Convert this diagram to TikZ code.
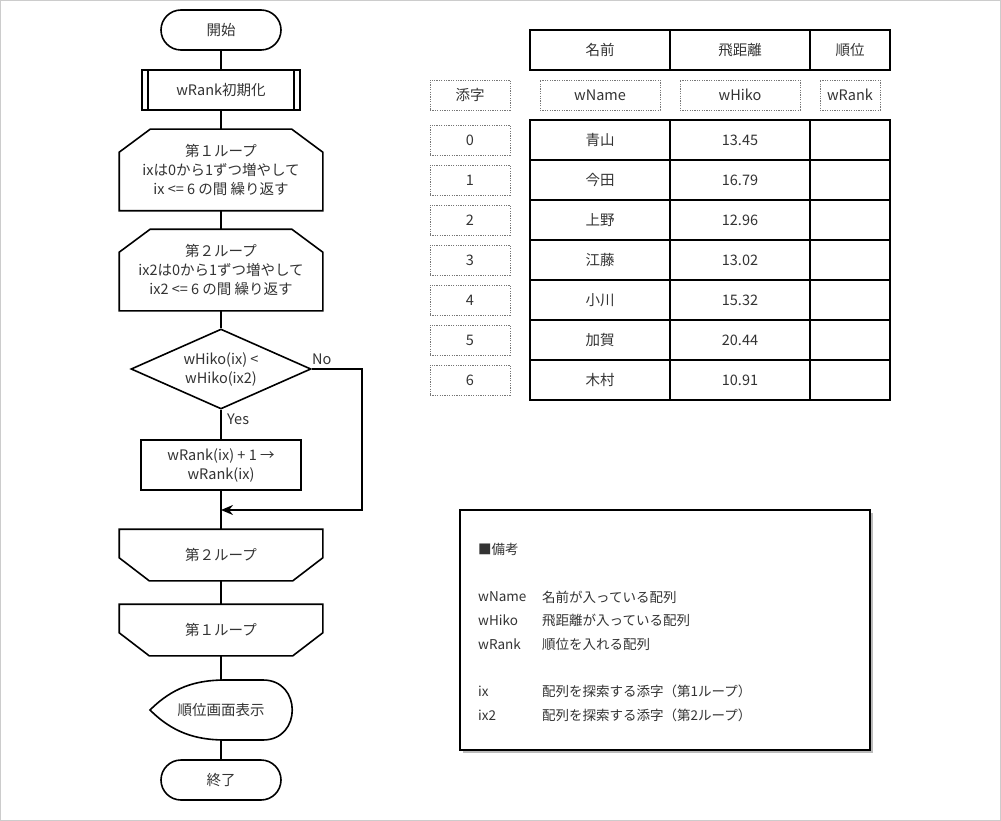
\documentclass[tikz,border=0pt]{standalone}
\usepackage{fontspec}
\setmainfont{Noto Sans CJK JP}
\usetikzlibrary{shapes.misc,shapes.geometric,arrows.meta}
\definecolor{framec}{HTML}{CCCCCC}
\definecolor{textc}{HTML}{333333}
\definecolor{shadowc}{HTML}{BBBBBB}
\definecolor{dotc}{HTML}{777777}

\tikzset{
  flow/.style={draw, line width=1.6pt, fill=white, text=textc, align=center,
    font=\fontsize{14.5}{19}\selectfont, inner sep=0pt},
  termbox/.style={flow, rounded rectangle, minimum width=120pt, minimum height=40pt},
  procbox/.style={flow, rectangle, minimum width=160pt, minimum height=50pt},
  loopbegin/.style={flow, draw=none, fill=none, minimum width=202pt, minimum height=80pt,
    append after command={\pgfextra{\draw[line width=1.6pt]
      (\tikzlastnode.south west) -- ([yshift=-23pt]\tikzlastnode.north west)
      -- ([xshift=31pt]\tikzlastnode.north west) -- ([xshift=-31pt]\tikzlastnode.north east)
      -- ([yshift=-23pt]\tikzlastnode.north east) -- (\tikzlastnode.south east) -- cycle;}}},
  loopend/.style={flow, draw=none, fill=none, minimum width=202pt, minimum height=50pt,
    append after command={\pgfextra{\draw[line width=1.6pt]
      (\tikzlastnode.north west) -- ([yshift=23pt]\tikzlastnode.south west)
      -- ([xshift=30pt]\tikzlastnode.south west) -- ([xshift=-30pt]\tikzlastnode.south east)
      -- ([yshift=23pt]\tikzlastnode.south east) -- (\tikzlastnode.north east) -- cycle;}}},
  condbox/.style={flow, diamond, aspect=2.25, minimum width=180pt, minimum height=80pt},
  link/.style={line width=1.6pt},
  cell/.style={draw, line width=1.2pt, text=textc, inner sep=0pt, minimum height=40pt,
    font=\fontsize{14.5}{18}\selectfont},
  dotbox/.style={draw=dotc, line width=0.6pt, dash pattern=on 1.2pt off 1.2pt, text=textc,
    inner sep=0pt, minimum height=30pt, font=\fontsize{14.5}{18}\selectfont},
  notetext/.style={anchor=west, text=textc, inner sep=0pt, font=\fontsize{13.5}{16}\selectfont},
  flowlabel/.style={anchor=west, text=textc, inner sep=0pt, font=\fontsize{14.5}{18}\selectfont}
}

\begin{document}
\begin{tikzpicture}[x=1pt, y=-1pt]
  \useasboundingbox (0,0) rectangle (1001,821);
  \draw[framec, line width=1pt] (0.5,0.5) rectangle (1000.5,820.5);

  % flowchart
  \node[termbox] (start) at (221,30) {開始};
  \node[flow, minimum width=158pt, minimum height=40pt] (init) at (221,90) {wRank初期化};
  \draw[line width=1.6pt] ([xshift=7pt]init.north west) -- ([xshift=7pt]init.south west);
  \draw[line width=1.6pt] ([xshift=-7pt]init.north east) -- ([xshift=-7pt]init.south east);
  \node[loopbegin] (loop1) at (221,170) {第１ループ\\ixは0から1ずつ増やして\\ix <= 6 の間 繰り返す};
  \node[loopbegin] (loop2) at (221,270) {第２ループ\\ix2は0から1ずつ増やして\\ix2 <= 6 の間 繰り返す};
  \node[condbox] (cond) at (221,369) {wHiko(ix) <\\wHiko(ix2)};
  \node[procbox] (proc) at (221,465) {wRank(ix) + 1 →\\wRank(ix)};
  \coordinate (merge) at (221,510);
  \node[loopend] (end2) at (221,555) {第２ループ};
  \node[loopend] (end1) at (221,630) {第１ループ};
  \draw[line width=1.6pt, fill=white] (150,710) .. controls (172,688) and (195,680) .. (225,680)
    -- (263,680) .. controls (302,680) and (302,740) .. (263,740)
    -- (225,740) .. controls (195,740) and (172,732) .. (150,710) -- cycle;
  \node[text=textc, font=\fontsize{14.5}{18}\selectfont, minimum width=142pt, minimum height=60pt,
    inner sep=0pt] (disp) at (221,710) {順位画面表示};
  \node[termbox] (stop) at (221,780) {終了};

  \draw[link] (start) -- (init);
  \draw[link] (init) -- (loop1);
  \draw[link] (loop1) -- (loop2);
  \draw[link] (loop2) -- (cond);
  \draw[link] (cond) -- (proc);
  \draw[link] (proc) -- (end2);
  \draw[link, -{Stealth[length=12pt, width=10pt]}] (cond.east) -- ++(50,0) |- (merge);
  \draw[link] (end2) -- (end1);
  \draw[link] (end1) -- (disp.north);
  \draw[link] (disp.south) -- (stop);
  \node[flowlabel] at (227,419) {Yes};
  \node[flowlabel] at (312,359) {No};

  % table
  \node[cell, minimum width=140pt] (hname) at (600,50) {名前};
  \node[cell, minimum width=140pt] (hhiko) at (740,50) {飛距離};
  \node[cell, minimum width=80pt] (hrank) at (850,50) {順位};
  \node[dotbox, minimum width=80pt] (vidx) at (470,95) {添字};
  \node[dotbox, minimum width=120pt] (vname) at (600,95) {wName};
  \node[dotbox, minimum width=120pt] (vhiko) at (740,95) {wHiko};
  \node[dotbox, minimum width=60pt] (vrank) at (850,95) {wRank};
  \foreach \i/\nm/\dist in {0/青山/13.45, 1/今田/16.79, 2/上野/12.96, 3/江藤/13.02,
                            4/小川/15.32, 5/加賀/20.44, 6/木村/10.91} {
    \node[dotbox, minimum width=80pt] (idx\i) at (470,140+40*\i) {\i};
    \node[cell, minimum width=140pt] (name\i) at (600,140+40*\i) {\nm};
    \node[cell, minimum width=140pt] (hiko\i) at (740,140+40*\i) {\dist};
    \node[cell, minimum width=80pt] (rank\i) at (850,140+40*\i) {};
  }

  % note
  \fill[shadowc] (463,513) rectangle (873,753);
  \draw[line width=1.2pt, fill=white] (460,510) rectangle (870,750);
  \node[notetext] (ntitle) at (478,549) {■備考};
  \node[notetext] (nk1) at (478,597) {wName};
  \node[notetext] (nv1) at (542,597) {名前が入っている配列};
  \node[notetext] (nk2) at (478,620) {wHiko};
  \node[notetext] (nv2) at (542,620) {飛距離が入っている配列};
  \node[notetext] (nk3) at (478,644) {wRank};
  \node[notetext] (nv3) at (542,644) {順位を入れる配列};
  \node[notetext] (nk4) at (478,691) {ix};
  \node[notetext] (nv4) at (542,691) {配列を探索する添字（第1ループ）};
  \node[notetext] (nk5) at (478,715) {ix2};
  \node[notetext] (nv5) at (542,715) {配列を探索する添字（第2ループ）};
\end{tikzpicture}
\end{document}
